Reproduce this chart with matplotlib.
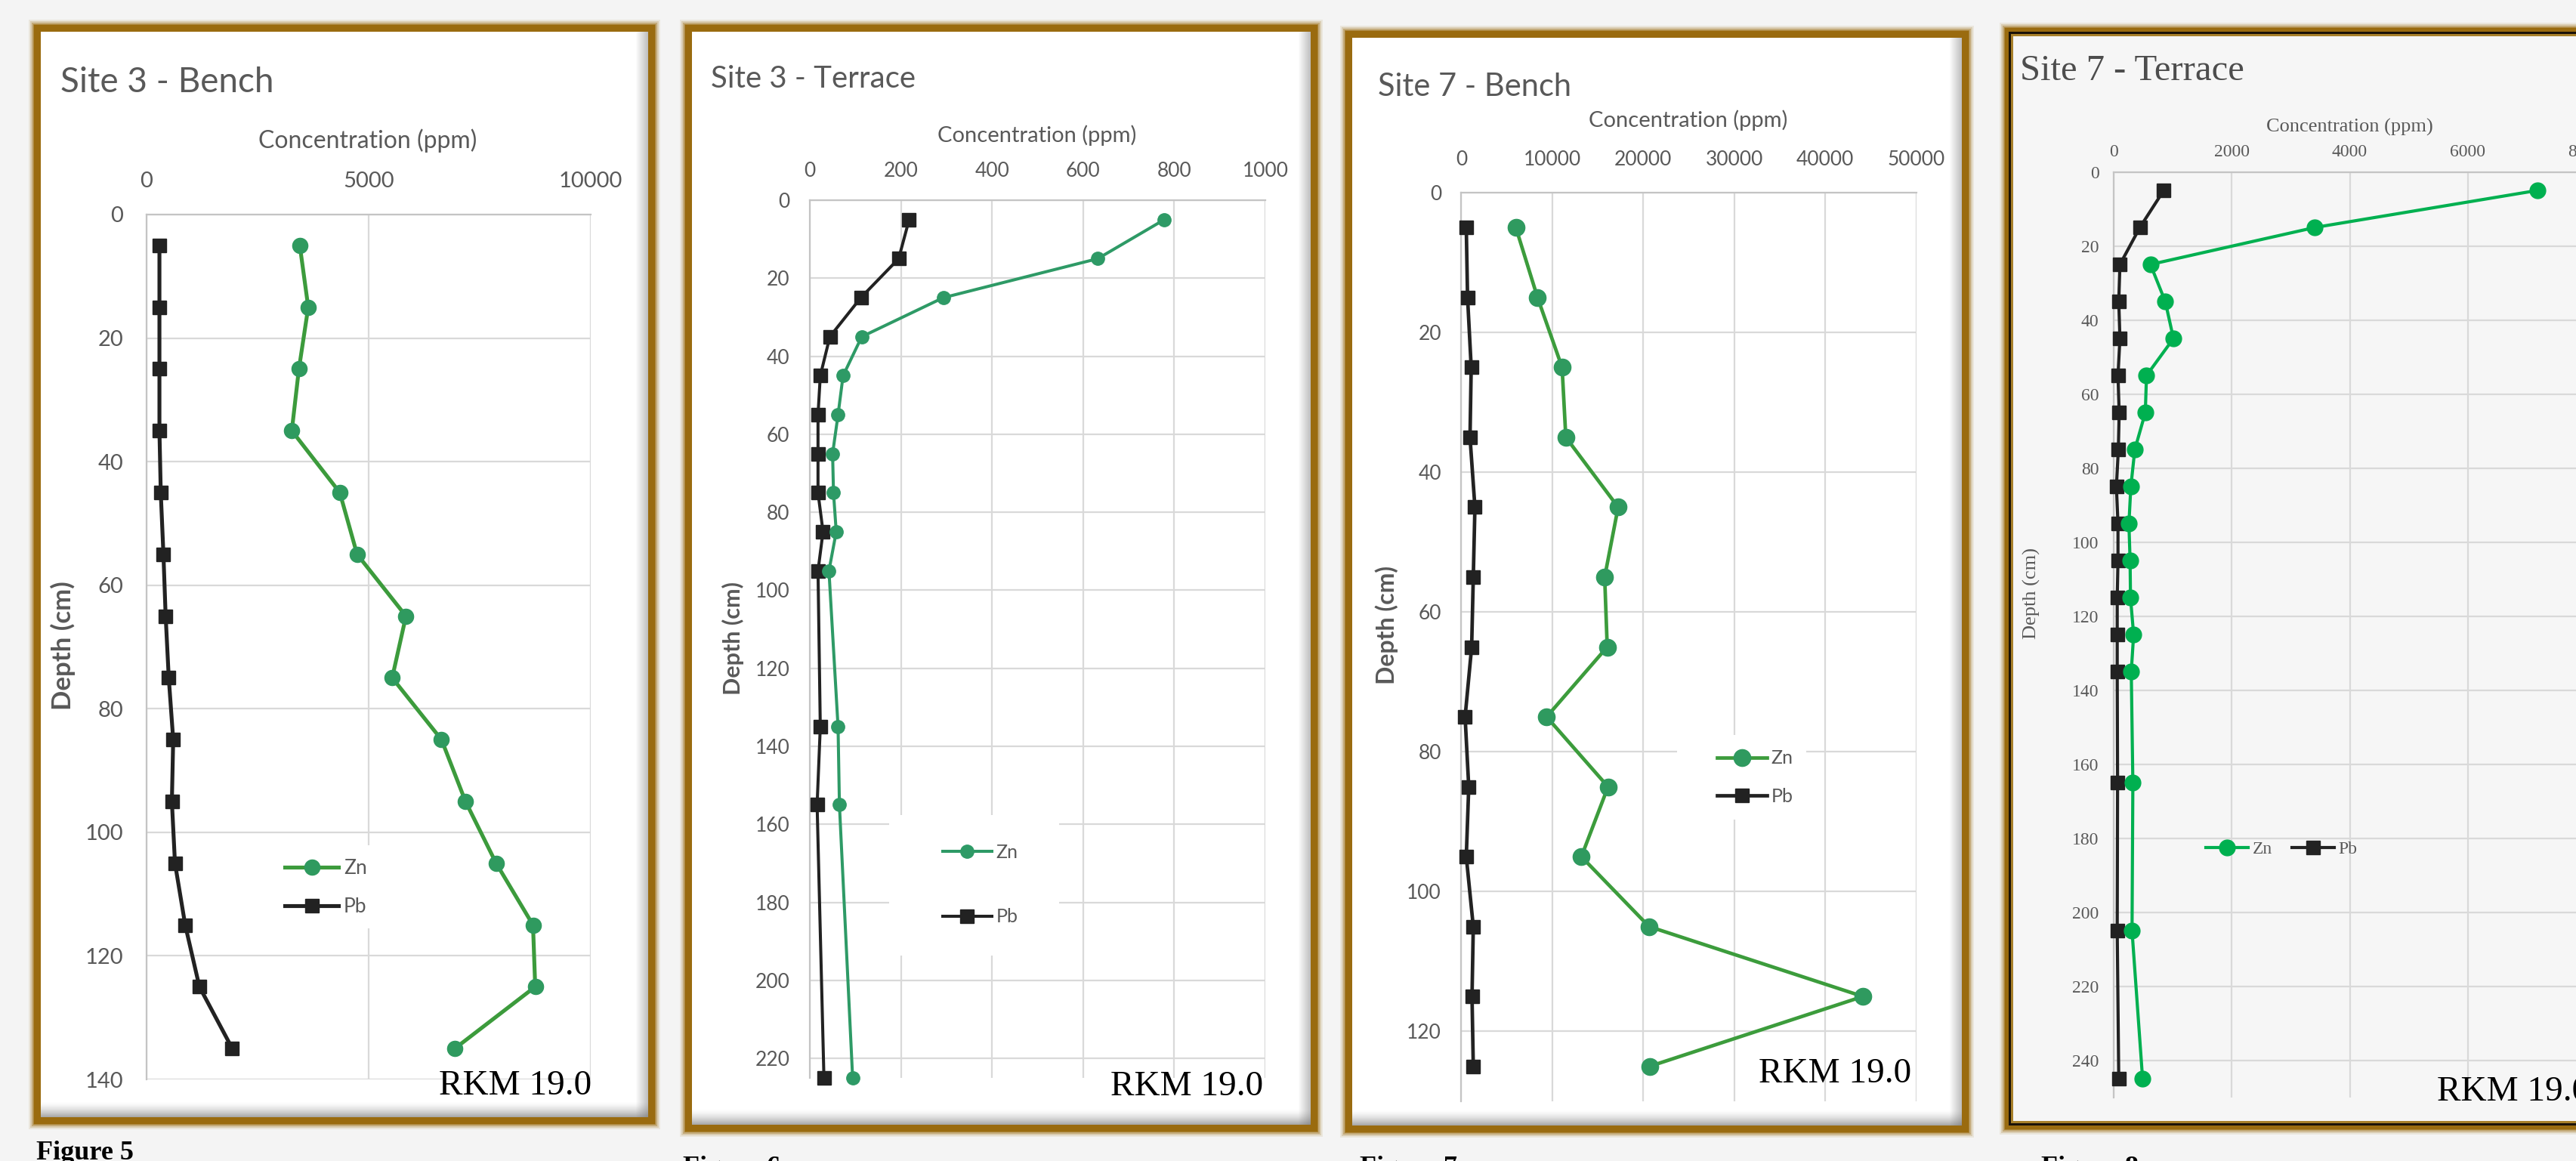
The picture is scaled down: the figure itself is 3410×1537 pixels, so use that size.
#!/usr/bin/env python3
"""Zn / Pb depth profiles (RKM 19.0) laid out as four framed figure panels."""

import matplotlib
matplotlib.use("Agg")
import matplotlib.pyplot as plt
import numpy as np
from matplotlib.patches import Rectangle

W, H = 3410, 1537
SANS = "Lato"
SERIF = "Liberation Serif"

# ---- data (ppm vs depth in cm) -------------------------------------------
depth_s3_bench = [5, 15, 25, 35, 45, 55, 65, 75, 85, 95, 105, 115, 125, 135]
zn_s3_bench = [3450, 3640, 3430, 3270, 4350, 4740, 5840, 5530, 6640, 7180, 7870, 8700, 8750, 6940]
pb_s3_bench = [290, 290, 290, 290, 320, 380, 430, 500, 600, 570, 640, 870, 1190, 1930]

depth_s3_terrace = [5, 15, 25, 35, 45, 55, 65, 75, 85, 95, 135, 155, 225]
zn_s3_terrace = [778, 632, 293, 114, 73, 62, 50, 52, 58, 42, 62, 65, 94]
pb_s3_terrace = [218, 195, 112, 44, 23, 18, 18, 18, 29, 18, 23, 16, 31]

depth_s7_bench = [5, 15, 25, 35, 45, 55, 65, 75, 85, 95, 105, 115, 125]
zn_s7_bench = [5990, 8370, 11070, 11480, 17230, 15750, 16030, 9370, 16120, 13190, 20630, 44140, 20680]
pb_s7_bench = [540, 680, 1080, 950, 1490, 1310, 1130, 410, 810, 540, 1310, 1170, 1310]

depth_s7_terrace = [5, 15, 25, 35, 45, 55, 65, 75, 85, 95, 105, 115, 125, 135, 165, 205, 245]
zn_s7_terrace = [7180, 3410, 623, 874, 1013, 556, 536, 358, 291, 258, 278, 285, 338, 298, 325, 311, 490]
pb_s7_terrace = [848, 444, 106, 86, 106, 73, 93, 79, 46, 73, 73, 60, 60, 60, 66, 60, 86]

titles = ["Site 3 - Bench", "Site 3 - Terrace", "Site 7 - Bench", "Site 7 - Terrace"]
captions = ["Figure 5", "Figure 6", "Figure 7", "Figure 8"]
x_label = "Concentration (ppm)"
y_label = "Depth (cm)"
site_tag = "RKM 19.0"


def px_rect(l, t, r, b):
    return [l / W, 1 - b / H, (r - l) / W, (b - t) / H]


def draw_frame(bg, l, t, r, b, inner="white", gold="#9a6b0f", black_line=False, shade=True):
    # soft glow around the gold frame
    for k, a in [(7, 0.10), (5, 0.2), (3, 0.35), (1, 0.6)]:
        bg.add_patch(Rectangle((l - k, t - k), r - l + 2 * k, b - t + 2 * k,
                               fc=gold, ec="none", alpha=a))
    bg.add_patch(Rectangle((l, t), r - l, b - t, fc=gold, ec="none"))
    g = 9
    if black_line:
        bg.add_patch(Rectangle((l + 5, t + 5), r - l - 10, b - t - 10, fc="#1a1208", ec="none"))
        bg.add_patch(Rectangle((l + 8, t + 8), r - l - 16, b - t - 16, fc="#a8802a", ec="none"))
        g = 11
    bg.add_patch(Rectangle((l + g, t + g), r - l - 2 * g, b - t - 2 * g, fc=inner, ec="none"))
    if shade:
        # inner shadow along right and bottom edges
        n = 16
        for i in range(n):
            a = 0.55 * (i + 1) / n
            bg.add_patch(Rectangle((r - g - n + i, t + g), 1, b - t - 2 * g,
                                   fc="#6f6f6f", ec="none", alpha=a * 0.8))
        nb = 20
        for i in range(nb):
            a = 0.6 * ((i + 1) / nb) ** 1.5
            bg.add_patch(Rectangle((l + g, b - g - nb + i), r - l - 2 * g, 1,
                                   fc="#6f6f6f", ec="none", alpha=a))


def draw_chart(fig, bg, p):
    ax = fig.add_axes(px_rect(*p["rect"]))
    ax.set_facecolor("none")
    ax.set_zorder(2)
    ax.plot(p["zn"], p["depth"], color=p["zn_line"], lw=p["lw"], marker="o",
            ms=p["ms_zn"], mfc=p["zn_marker"], mec=p["zn_marker"], label="Zn",
            clip_on=False, zorder=4, solid_joinstyle="round")
    ax.plot(p["pb"], p["depth"], color="#222222", lw=p["lw"], marker="s",
            ms=p["ms_pb"], mfc="#222222", mec="#222222", label="Pb",
            clip_on=False, zorder=3, solid_joinstyle="round")
    ax.set_xlim(0, p["xmax"])
    ax.set_ylim(p["ymax"], 0)
    ax.set_xticks(np.arange(0, p["xmax"] + 1, p["xstep"]))
    ax.set_yticks(np.arange(0, p["ymax"] + 0.1, 20))
    ax.xaxis.tick_top()
    ax.grid(True, color="#d9d9d9", lw=1.6)
    ax.set_axisbelow(True)
    for side in ["right", "bottom"]:
        ax.spines[side].set_visible(False)
    for side in ["left", "top"]:
        ax.spines[side].set_color("#c4c4c4")
        ax.spines[side].set_linewidth(1.6)
    ax.tick_params(axis="x", length=0, pad=p["xpad"], labelsize=p["tick_fs"],
                   labelcolor="#595959", labelfontfamily=p["font"])
    ax.tick_params(axis="y", length=0, pad=p["ypad"], labelsize=p["tick_fs"],
                   labelcolor="#595959", labelfontfamily=p["font"])

    if p["box"] is not None:
        l, t, r, b = p["box"]
        ax.add_patch(Rectangle((l, t), r - l, b - t, transform=bg.transData,
                               fc="white", ec="none", zorder=1))
    fs_px = p["leg_fs"] * 100 / 72
    ax.legend(loc="center left", bbox_to_anchor=p["leg_at"], bbox_transform=bg.transData,
              frameon=False, ncol=p["leg_ncol"], borderpad=0,
              handlelength=p["leg_len"] / fs_px, handletextpad=0.25,
              labelspacing=p["leg_space"], columnspacing=1.1,
              prop={"family": p["font"], "size": p["leg_fs"]}, labelcolor="#595959")

    tx = bg.transData
    fig.text(p["title_at"][0], p["title_at"][1], p["title"], transform=tx,
             family=p["font"], size=p["title_fs"], color=p["title_color"],
             ha="left", va="baseline")
    fig.text(p["xlab_at"][0], p["xlab_at"][1], x_label, transform=tx,
             family=p["font"], size=p["lab_fs"], color="#595959",
             ha="center", va="baseline")
    fig.text(p["ylab_at"][0], p["ylab_at"][1], y_label, transform=tx,
             family=p["font"], size=p["ylab_fs"], color="#595959",
             ha="center", va="center", rotation=90,
             weight=p["ylab_weight"])
    fig.text(p["tag_at"][0], p["tag_at"][1], site_tag, transform=tx,
             family=SERIF, size=34, color="black", ha=p["tag_ha"], va="baseline",
             zorder=10)
    return ax


def main():
    fig = plt.figure(figsize=(W / 100, H / 100), dpi=100)
    fig.patch.set_facecolor("#f4f4f4")
    bg = fig.add_axes([0, 0, 1, 1])
    bg.set_autoscale_on(False)
    bg.set_xlim(0, W)
    bg.set_ylim(H, 0)
    bg.axis("off")
    bg.set_zorder(0)

    draw_frame(bg, 45, 33, 867, 1488)
    draw_frame(bg, 907, 33, 1744, 1498)
    draw_frame(bg, 1781, 41, 2606, 1499, shade=True)
    draw_frame(bg, 2654, 37, 3470, 1495, inner="#f6f6f6", black_line=True, shade=False)

    panels = [
        dict(rect=(194, 284, 782, 1429), depth=depth_s3_bench, zn=zn_s3_bench, pb=pb_s3_bench,
             xmax=10000, xstep=5000, ymax=140, font=SANS,
             zn_line="#3c9b3c", zn_marker="#2f9a5f", lw=3.7, ms_zn=14.5, ms_pb=13.5,
             tick_fs=21, xpad=22, ypad=22, box=(340, 1119, 495, 1229),
             leg_fs=19, leg_at=(364, 1175), leg_len=71, leg_space=1.0, leg_ncol=1,
             title=titles[0], title_at=(80, 122), title_fs=33, title_color="#595959",
             xlab_at=(487, 196), lab_fs=23, ylab_at=(83, 855), ylab_fs=25, ylab_weight="bold",
             tag_at=(783, 1449), tag_ha="right"),
        dict(rect=(1072, 265, 1675, 1427), depth=depth_s3_terrace, zn=zn_s3_terrace, pb=pb_s3_terrace,
             xmax=1000, xstep=200, ymax=225, font=SANS,
             zn_line="#2e9a66", zn_marker="#2e9a66", lw=2.9, ms_zn=12.5, ms_pb=12.5,
             tick_fs=19, xpad=19, ypad=19, box=(1177, 1079, 1402, 1265),
             leg_fs=18, leg_at=(1235, 1171), leg_len=65, leg_space=2.5, leg_ncol=1,
             title=titles[1], title_at=(941, 116), title_fs=29, title_color="#595959",
             xlab_at=(1373, 188), lab_fs=21, ylab_at=(970, 845), ylab_fs=22, ylab_weight="bold",
             tag_at=(1672, 1450), tag_ha="right"),
        dict(rect=(1934.5, 255, 2536.7, 1458), depth=depth_s7_bench, zn=zn_s7_bench, pb=pb_s7_bench,
             xmax=50000, xstep=10000, ymax=130, font=SANS,
             zn_line="#3c9c3c", zn_marker="#2f9a5f", lw=3.4, ms_zn=16, ms_pb=12.5,
             tick_fs=19, xpad=22, ypad=19, box=(2220, 973, 2391, 1085),
             leg_fs=18, leg_at=(2260, 1029), leg_len=66, leg_space=1.1, leg_ncol=1,
             title=titles[2], title_at=(1824, 127), title_fs=30, title_color="#595959",
             xlab_at=(2235, 168), lab_fs=21, ylab_at=(1836, 827), ylab_fs=23, ylab_weight="bold",
             tag_at=(2530, 1433), tag_ha="right"),
        dict(rect=(2798, 227.6, 3423, 1452.8), depth=depth_s7_terrace, zn=zn_s7_terrace, pb=pb_s7_terrace,
             xmax=8000, xstep=2000, ymax=250, font=SERIF,
             zn_line="#00b050", zn_marker="#00b050", lw=3.0, ms_zn=15, ms_pb=13,
             tick_fs=17, xpad=11, ypad=14, box=None,
             leg_fs=17, leg_at=(2908, 1124), leg_len=56, leg_space=1.0, leg_ncol=2,
             title=titles[3], title_at=(2674, 106), title_fs=35, title_color="#4d4d4d",
             xlab_at=(3110, 175), lab_fs=19, ylab_at=(2689, 786), ylab_fs=19, ylab_weight="normal",
             tag_at=(3226, 1457), tag_ha="left"),
    ]
    for p in panels:
        draw_chart(fig, bg, p)

    cap_pos = [(48, 1510), (904, 1530), (1800, 1530), (2702, 1530)]
    for (x, y), cap in zip(cap_pos, captions):
        fig.text(x, y, cap, transform=bg.transData, family=SERIF, size=26,
                 weight="bold", color="black", ha="left", va="top")

    fig.savefig("out.png", dpi=100, facecolor=fig.get_facecolor())
    plt.close(fig)


if __name__ == "__main__":
    main()
